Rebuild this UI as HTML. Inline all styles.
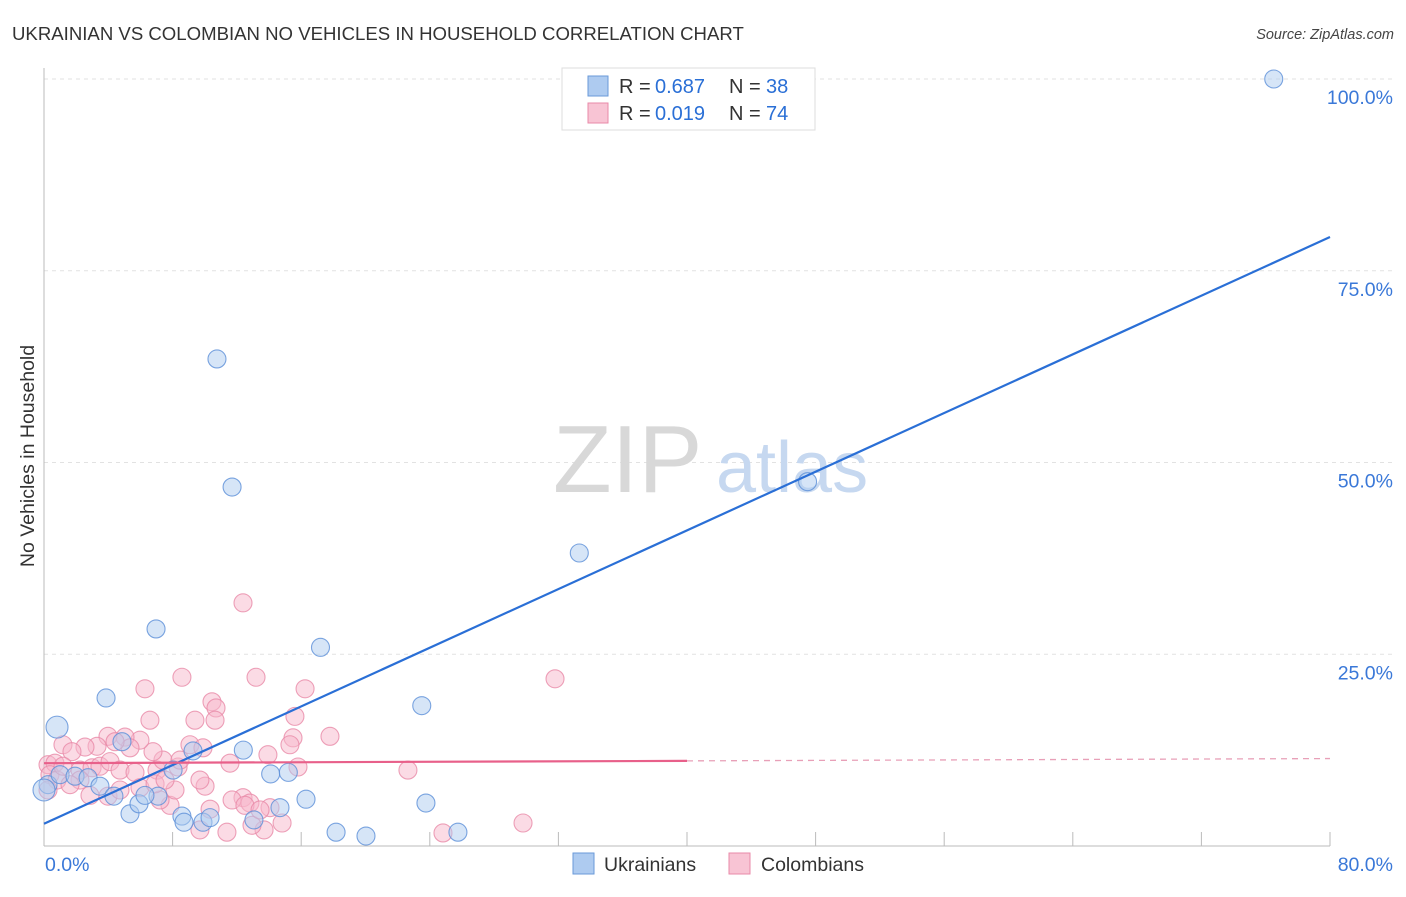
<!DOCTYPE html>
<html><head><meta charset="utf-8"><style>
body{margin:0;background:#fff;font-family:"Liberation Sans",sans-serif}
svg text{font-family:"Liberation Sans",sans-serif}
</style></head><body>
<svg id="chart" width="1406" height="892">
<text x="12" y="40" font-size="18.6" fill="#333">UKRAINIAN VS COLOMBIAN NO VEHICLES IN HOUSEHOLD CORRELATION CHART</text>
<text x="1394" y="39" font-size="14.5" fill="#444" font-style="italic" text-anchor="end">Source: ZipAtlas.com</text>
<text transform="translate(34,456) rotate(-90)" font-size="19.5" fill="#333" text-anchor="middle">No Vehicles in Household</text>
<g id="grid"></g>
<g>
<text x="553" y="492" font-size="96" font-family="Liberation Serif,serif" fill="#d8d8d8">ZIP</text>
<text x="716" y="492" font-size="72" fill="#c6d8f0">atlas</text>
</g>
<g id="marks"></g>
<g>
<rect x="562" y="68" width="253" height="62" fill="#fff" stroke="#ddd"/>
<rect x="588" y="76" width="20" height="20" fill="#aecbf0" stroke="#6a9ad8"/>
<rect x="588" y="103" width="20" height="20" fill="#f8c4d4" stroke="#e98aa8"/>
<text x="619" y="93" font-size="20" fill="#333">R =</text>
<text x="655" y="93" font-size="20" fill="#2a6fd6">0.687</text>
<text x="729" y="93" font-size="20" fill="#333">N =</text>
<text x="766" y="93" font-size="20" fill="#2a6fd6">38</text>
<text x="619" y="120" font-size="20" fill="#333">R =</text>
<text x="655" y="120" font-size="20" fill="#2a6fd6">0.019</text>
<text x="729" y="120" font-size="20" fill="#333">N =</text>
<text x="766" y="120" font-size="20" fill="#2a6fd6">74</text>
</g>
<g>
<rect x="573" y="853" width="21" height="21" fill="#aecbf0" stroke="#6a9ad8"/>
<text x="604" y="871" font-size="19.5" fill="#333">Ukrainians</text>
<rect x="729" y="853" width="21" height="21" fill="#f8c4d4" stroke="#e98aa8"/>
<text x="761" y="871" font-size="19.5" fill="#333">Colombians</text>
</g>
</svg>
<script>
const blueX=[76.5,10.76,11.7,47.5,33.3,6.97,17.2,3.86,23.5,0.81,4.85,9.27,12.4,8.03,14.1,15.2,0.25,1.0,1.93,2.74,3.48,4.35,5.35,5.91,7.09,8.58,8.71,9.89,10.33,13.06,14.68,16.3,18.17,20.03,23.76,25.75,0,6.28];
const blueY=[100,63.5,46.8,47.5,38.2,28.3,25.9,19.3,18.3,15.5,13.6,12.4,12.5,9.9,9.4,9.6,8.0,9.3,9.1,8.9,7.8,6.5,4.2,5.5,6.5,3.9,3.1,3.1,3.7,3.4,5.0,6.1,1.8,1.3,5.6,1.8,7.3,6.6];
const pinkX=[12.38,8.58,13.19,6.28,16.24,31.79,10.45,10.7,9.39,10.64,15.61,17.79,15.49,22.64,29.8,24.82,12.38,13.69,11.38,9.7,12.81,11.7,12.5,14.81,12.94,14.06,13.93,11.57,15.8,10.02,8.34,7.84,7.22,8.15,7.03,7.4,8.46,9.08,9.89,6.78,5.97,5.04,5.35,3.98,3.3,2.55,1.18,1.74,0.25,0.68,0.37,0.81,1.18,2.24,2.99,3.48,4.11,4.73,5.66,5.97,3.98,2.86,2.24,1.62,0.25,4.73,6.91,7.53,15.3,13.44,10.33,9.7,6.59,4.42];
const pinkY=[31.7,22.0,22.0,20.5,20.5,21.8,18.8,18.0,16.4,16.4,16.9,14.3,14.1,9.9,3.0,1.7,6.3,2.1,1.8,2.1,5.6,6.0,5.3,3.0,2.7,5.0,11.9,10.8,10.3,7.8,10.3,5.3,6.0,7.3,9.9,11.2,11.2,13.2,12.8,12.3,13.8,14.2,12.8,14.3,13.0,12.9,13.2,12.3,10.6,10.8,9.3,8.6,10.4,9.9,10.2,10.4,11.0,9.9,9.6,7.6,6.5,6.6,8.6,8.0,7.3,7.3,8.1,8.6,13.2,4.7,4.8,8.6,16.4,13.6];
const blueFit=[2.9,79.4];
const pinkFit=[10.8,11.4];
const xTickLabels=["0.0%","80.0%"];
const yTicks=[25,50,75,100];
const yTickLabels=["25.0%","50.0%","75.0%","100.0%"];
const NS="http://www.w3.org/2000/svg";
const X=v=>44+v/80*1286, Y=v=>846-v/100*767;
function mk(t,a,p){const e=document.createElementNS(NS,t);for(const k in a)e.setAttribute(k,a[k]);p.appendChild(e);return e;}
const grid=document.getElementById('grid'),marks=document.getElementById('marks');
yTicks.forEach((t,i)=>{
 const l=mk('line',{x1:44,x2:1394,y1:Y(t),y2:Y(t),stroke:'#e2e2e2','stroke-dasharray':'4,4'},grid);
 
 
 const tx=mk('text',{x:1393,y:Y(t)+25,'font-size':19.5,fill:'#3a78d8','text-anchor':'end'},grid);
 tx.textContent=yTickLabels[i];
 
 
});
const ax=mk('line',{x1:44,x2:44,y1:68,y2:846,stroke:'#bbb'},grid);


const bx=mk('line',{x1:44,x2:1330,y1:846,y2:846,stroke:'#bbb'},grid);


for(let i=1;i<=10;i++){const t=mk('line',{x1:X(i*8),x2:X(i*8),y1:832,y2:846,stroke:'#bbb'},grid);
 
 }
[[0,'start',45],[80,'end',1393]].forEach((d,i)=>{const t=mk('text',{x:d[2],y:871,'font-size':19.5,fill:'#3a78d8','text-anchor':d[1]},grid);t.textContent=xTickLabels[i];
 
 });
function dot(x,y,r,f,s,name){const c=mk('circle',{cx:X(x),cy:Y(y),r:r,fill:f,'fill-opacity':0.5,stroke:s,'stroke-opacity':0.8,'stroke-width':1.1},marks);
 
 }
pinkX.forEach((x,i)=>dot(x,pinkY[i],9,'#f7b8cb','#e98aa8','colombian-point'));
blueX.forEach((x,i)=>dot(x,blueY[i],(x<1&&blueY[i]>14)||i==36?11:9,'#aecbf0','#5b8ed8','ukrainian-point'));
const bl=mk('line',{x1:X(0),y1:Y(blueFit[0]),x2:X(80),y2:Y(blueFit[1]),stroke:'#2a6fd6','stroke-width':2.2},marks);


const pm=pinkFit[0]+(pinkFit[1]-pinkFit[0])/2;
const pl=mk('line',{x1:X(0),y1:Y(pinkFit[0]),x2:X(40),y2:Y(pm),stroke:'#e8608a','stroke-width':2.2},marks);


const pd=mk('line',{x1:X(40),y1:Y(pm),x2:X(80),y2:Y(pinkFit[1]),stroke:'#e8a0b8','stroke-width':1.3,'stroke-dasharray':'6,5'},marks);


</script>
</body></html>
